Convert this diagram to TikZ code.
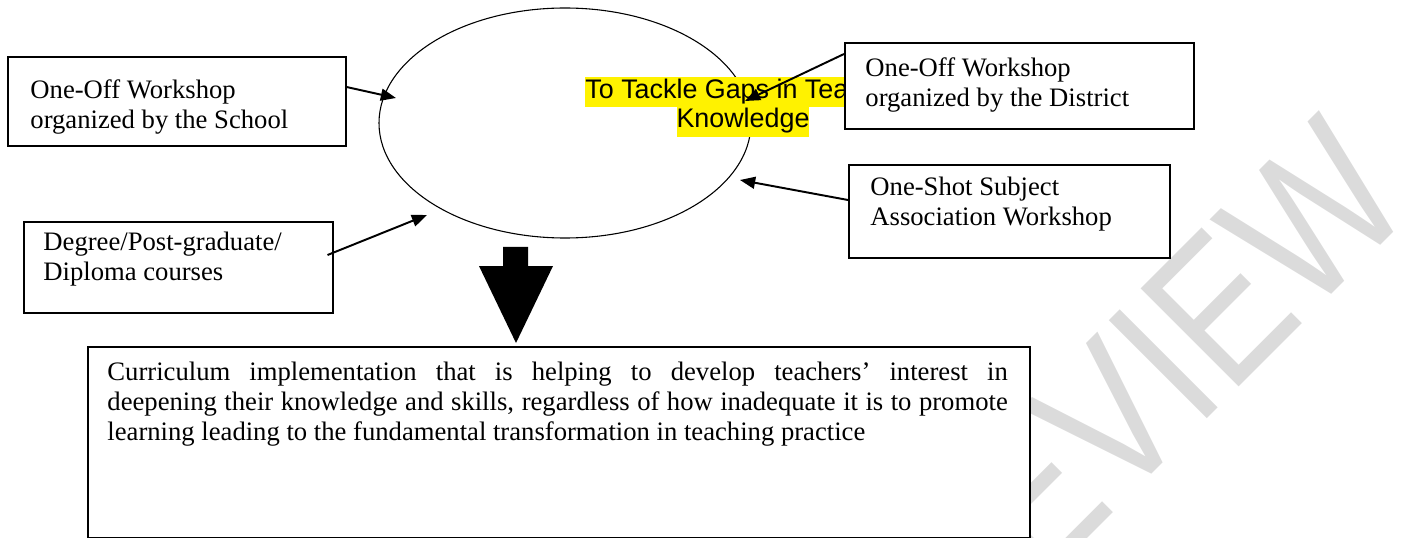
\documentclass[tikz,border=0pt]{standalone}
\usepackage{fontspec}
\setmainfont{Liberation Serif}
\newfontfamily\arialfont{Liberation Sans}
\usepackage{xcolor}
\usetikzlibrary{calc,positioning,arrows.meta,shapes.geometric}
\setlength{\fboxsep}{0pt}
\def\pxu{0.4615pt}

\begin{document}
\begin{tikzpicture}[x=0.4615pt, y=-0.4615pt,
        srcbox/.style={draw, line width=0.7pt, fill=white, anchor=north west, inner sep=0pt},
        srctext/.style={anchor=north west, align=left, inner sep=0pt, font=\fontsize{12.3}{13.8}\selectfont},
        feed/.style={line width=0.9pt, -{Triangle[length=7pt, width=5.5pt]}}]
        \useasboundingbox (0,0) rectangle (1408,538);

        % watermark behind everything
        \node[rotate=45, xscale=0.82, inner sep=0pt, text=black!14, font=\arialfont\fontsize{93}{93}\selectfont] (stamp) at (1099,429) {PREVIEW};

        % central ellipse and its highlighted title
        \node[draw, ellipse, line width=0.5pt, minimum width=372*\pxu, minimum height=230*\pxu, inner sep=0pt] (goal) at (565,123) {};
        \node[inner sep=0pt, align=center, font=\arialfont\fontsize{12.4}{13.8}\selectfont] (goaltxt) at (743,107)
            {\colorbox{yellow}{\strut To Tackle Gaps in Teacher}\\\colorbox{yellow}{\strut Knowledge}};

        % the four sources
        \node[srcbox, minimum width=338*\pxu, minimum height=89*\pxu] (school) at (7,56) {};
        \node[srctext] (schooltxt) at ($(school.north west)+(23,23)$) {One-Off Workshop\\organized by the School};

        \node[srcbox, minimum width=309*\pxu, minimum height=91*\pxu] (degree) at (23,221) {};
        \node[srctext] (degreetxt) at ($(degree.north west)+(20,11)$) {Degree/Post-graduate/\\Diploma courses};

        \node[srcbox, minimum width=349*\pxu, minimum height=86*\pxu] (district) at (844,42) {};
        \node[srctext] (districttxt) at ($(district.north west)+(21,15)$) {One-Off Workshop\\organized by the District};

        \node[srcbox, minimum width=321*\pxu, minimum height=93*\pxu] (subject) at (848,164) {};
        \node[srctext] (subjecttxt) at ($(subject.north west)+(22,13)$) {One-Shot Subject\\Association Workshop};

        % arrows into the ellipse
        \coordinate (inschool) at (396,98);
        \coordinate (indegree) at (427,215);
        \coordinate (indistrict) at (745,101);
        \coordinate (insubject) at (740,180);
        \draw[feed] ($(school.north east)+(0,31)$) -- (inschool);
        \draw[feed] ($(degree.north east)+(-6,34)$) -- (indegree);
        \draw[feed] ($(district.north west)+(0,12)$) -- (indistrict);
        \draw[feed] ($(subject.north west)+(0,36)$) -- (insubject);

        % outcome box
        \node[srcbox, minimum width=942*\pxu, minimum height=191*\pxu] (outcome) at (87,346) {};
        \node[srctext, align=justify, text width=415.5pt] (outcometxt) at ($(outcome.north west)+(20,16)$)
            {Curriculum implementation that is helping to develop teachers’ interest in\linebreak
             deepening their knowledge and skills, regardless of how inadequate it is to promote\linebreak
             learning leading to the fundamental transformation in teaching practice};

        % big block arrow down to the outcome
        \coordinate (drop) at ($(outcome.north west)+(429,-3)$);
        \fill (drop) -- ++(-37,-77) -- ++(24,0) -- ++(0,-19) -- ++(25,0) -- ++(0,19) -- ++(25,0) -- cycle;
    \end{tikzpicture}
\end{document}
